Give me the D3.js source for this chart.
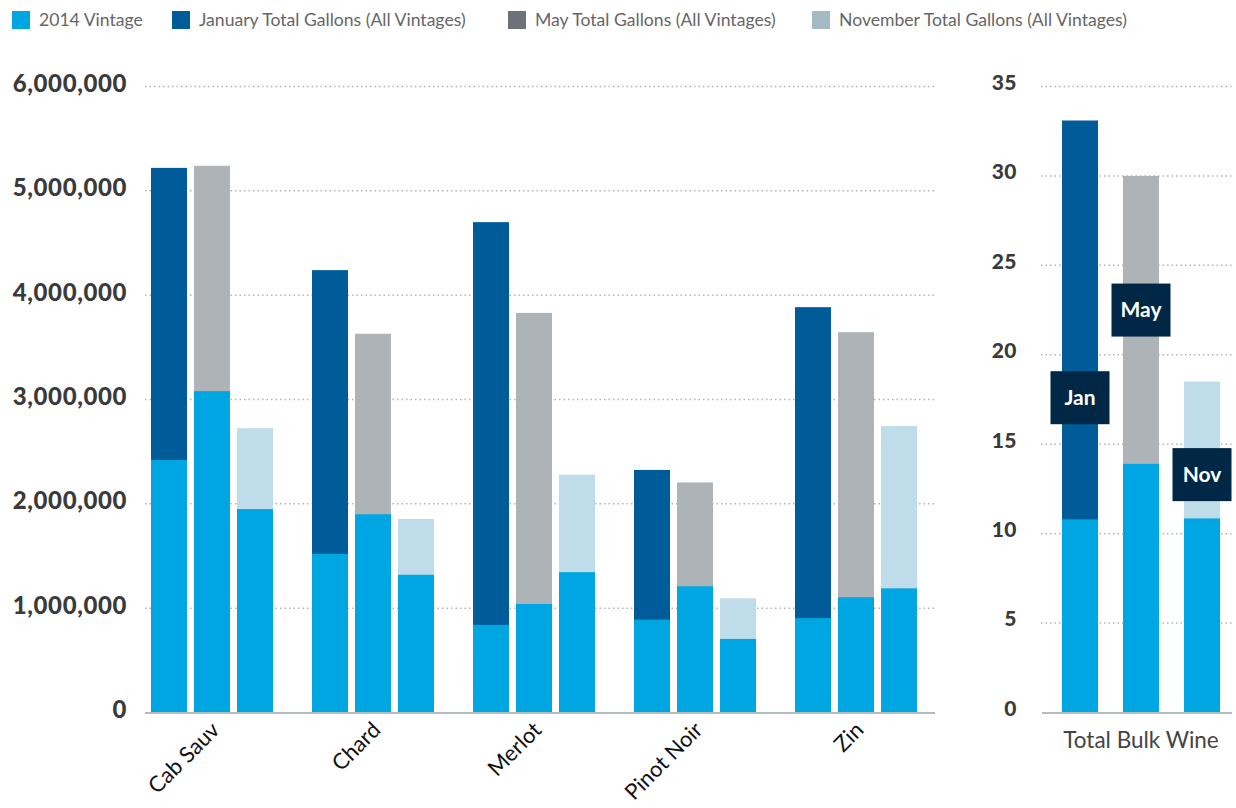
<!DOCTYPE html>
<html>
<head>
<meta charset="utf-8">
<script src="https://cdn.jsdelivr.net/npm/d3@7"></script>
<style>
body { margin: 0; background: #fff; }
svg { display: block; font-family: Lato, "Open Sans", sans-serif; }
</style>
</head>
<body>
<svg id="chart" width="1236" height="808"></svg>
<script>
// 品种 + 三个月份
const varieties = ['Cab Sauv', 'Chard', 'Merlot', 'Pinot Noir', 'Zin'];
const months = ['Jan', 'May', 'Nov'];

// gallons, 2014 vintage part of each bar
const vintageJan = [2420000, 1520000, 840000, 890000, 905000];
const vintageMay = [3080000, 1900000, 1040000, 1210000, 1105000];
const vintageNov = [1950000, 1320000, 1345000, 705000, 1190000];
// total gallons (all vintages)
const totalJan = [5220000, 4240000, 4700000, 2325000, 3885000];
const totalMay = [5240000, 3630000, 3830000, 2205000, 3645000];
const totalNov = [2725000, 1855000, 2280000, 1095000, 2745000];

// total bulk wine (million gallons)
const bulkVintage = [10.8, 13.9, 10.85];
const bulkTotal = [33.1, 30.0, 18.5];
const bulkLabelAt = [17.6, 22.5, 13.3];

const leftTicks = [0, 1000000, 2000000, 3000000, 4000000, 5000000, 6000000];
const rightTicks = [0, 5, 10, 15, 20, 25, 30, 35];

const legendItems = ['2014 Vintage', 'January Total Gallons (All Vintages)',
    'May Total Gallons (All Vintages)', 'November Total Gallons (All Vintages)'];

const colVintage = '#00a6e1';
const monthColors = { Jan: '#005c99', May: '#adb3b6', Nov: '#bedcea' };
const legendColors = ['#00a6e1', '#005c99', '#6d7278', '#a3b9c3'];

const svg = d3.select('#chart');

// legend
const legend = svg.append('g');
const legendX = [12, 172, 508, 812];
legendItems.forEach((t, i) => {
    legend.append('rect')
        .attr('x', legendX[i]).attr('y', 11)
        .attr('width', 18).attr('height', 18)
        .style('fill', legendColors[i]);
    legend.append('text')
        .attr('x', legendX[i] + 27).attr('y', 26)
        .style('font-size', '17.6px')
        .style('fill', '#666')
        .text(t);
});

// ---- left panel ----
const y = d3.scaleLinear().domain([0, 6000000]).range([712.5, 86.5]);
const x0 = d3.scaleBand().domain(varieties).range([131.5, 936.5])
    .paddingInner(39 / 161).paddingOuter(39 / 322);
const x1 = d3.scaleBand().domain(months).range([0, x0.bandwidth()])
    .paddingInner(7 / 43);

const left = svg.append('g');
left.selectAll('line.grid')
    .data(leftTicks.filter(d => d > 0))
    .enter().append('line')
    .attr('x1', 145).attr('x2', 935)
    .attr('y1', d => y(d)).attr('y2', d => y(d))
    .style('stroke', '#b4b4b4').style('stroke-width', 1.5)
    .style('stroke-dasharray', '1.5,3');

left.selectAll('text.tick')
    .data(leftTicks)
    .enter().append('text')
    .attr('x', 127).attr('y', d => y(d) - 3)
    .attr('dy', '0.35em')
    .attr('text-anchor', 'end')
    .style('font-size', '24px').style('font-weight', 900)
    .style('letter-spacing', '0.6px')
    .style('fill', '#3a3a3a')
    .text(d => d3.format(',')(d));

const rows = varieties.map((v, i) => ({
    variety: v,
    bars: [
        { m: 'Jan', vintage: vintageJan[i], total: totalJan[i] },
        { m: 'May', vintage: vintageMay[i], total: totalMay[i] },
        { m: 'Nov', vintage: vintageNov[i], total: totalNov[i] }
    ]
}));

const groups = left.selectAll('g.group')
    .data(rows)
    .enter().append('g')
    .attr('transform', d => `translate(${x0(d.variety)},0)`);

const bars = groups.selectAll('g.bar')
    .data(d => d.bars)
    .enter().append('g');

bars.append('rect')
    .attr('x', d => x1(d.m)).attr('width', x1.bandwidth())
    .attr('y', d => y(d.total)).attr('height', d => y(0) - y(d.total))
    .style('fill', d => monthColors[d.m]);
bars.append('rect')
    .attr('x', d => x1(d.m)).attr('width', x1.bandwidth())
    .attr('y', d => y(d.vintage)).attr('height', d => y(0) - y(d.vintage))
    .style('fill', colVintage);

left.append('line')
    .attr('x1', 145).attr('x2', 935)
    .attr('y1', y(0) + 0.5).attr('y2', y(0) + 0.5)
    .style('stroke', '#b3bcc0').style('stroke-width', 2);

left.selectAll('text.cat')
    .data(varieties)
    .enter().append('text')
    .attr('transform', d => `translate(${x0(d) + x0.bandwidth() / 2 - 2},${y(0) + 8}) rotate(-45)`)
    .attr('text-anchor', 'end')
    .attr('dy', '0.7em')
    .style('font-size', '22px')
    .style('fill', '#111')
    .text(d => d);

// ---- right panel ----
const y2 = d3.scaleLinear().domain([0, 35]).range([712.5, 86.5]);
const x2 = d3.scaleBand().domain(months).range([1049.5, 1232.5])
    .paddingInner(25 / 61).paddingOuter(12.5 / 61);

const right = svg.append('g');
right.selectAll('line.grid')
    .data(rightTicks.filter(d => d > 0))
    .enter().append('line')
    .attr('x1', 1041).attr('x2', 1232)
    .attr('y1', d => y2(d)).attr('y2', d => y2(d))
    .style('stroke', '#b4b4b4').style('stroke-width', 1.5)
    .style('stroke-dasharray', '1.5,3');

right.selectAll('text.tick')
    .data(rightTicks)
    .enter().append('text')
    .attr('x', 1017).attr('y', d => y2(d) - 4)
    .attr('dy', '0.35em')
    .attr('text-anchor', 'end')
    .style('font-size', '21px').style('font-weight', 900)
    .style('letter-spacing', '0.5px')
    .style('fill', '#3a3a3a')
    .text(d => d);

const bulk = months.map((m, i) => ({ m, vintage: bulkVintage[i], total: bulkTotal[i], labelAt: bulkLabelAt[i] }));

const bb = right.selectAll('g.bulk')
    .data(bulk)
    .enter().append('g');
bb.append('rect')
    .attr('x', d => x2(d.m)).attr('width', x2.bandwidth())
    .attr('y', d => y2(d.total)).attr('height', d => y2(0) - y2(d.total))
    .style('fill', d => monthColors[d.m]);
bb.append('rect')
    .attr('x', d => x2(d.m)).attr('width', x2.bandwidth())
    .attr('y', d => y2(d.vintage)).attr('height', d => y2(0) - y2(d.vintage))
    .style('fill', colVintage);

right.append('line')
    .attr('x1', 1042).attr('x2', 1232)
    .attr('y1', y2(0) + 0.5).attr('y2', y2(0) + 0.5)
    .style('stroke', '#b3bcc0').style('stroke-width', 2);

// month tags
bb.append('rect')
    .attr('x', d => x2(d.m) + x2.bandwidth() / 2 - 29.5)
    .attr('y', d => y2(d.labelAt) - 26.5)
    .attr('width', 59).attr('height', 53)
    .style('fill', '#002745');
bb.append('text')
    .attr('x', d => x2(d.m) + x2.bandwidth() / 2)
    .attr('y', d => y2(d.labelAt))
    .attr('dy', '0.35em')
    .attr('text-anchor', 'middle')
    .style('font-size', '21px').style('font-weight', 'bold')
    .style('fill', '#fff')
    .text(d => d.m);

right.append('text')
    .attr('x', 1141).attr('y', 748)
    .attr('text-anchor', 'middle')
    .style('font-size', '22.5px')
    .style('fill', '#444')
    .text('Total Bulk Wine');
</script>
</body>
</html>
